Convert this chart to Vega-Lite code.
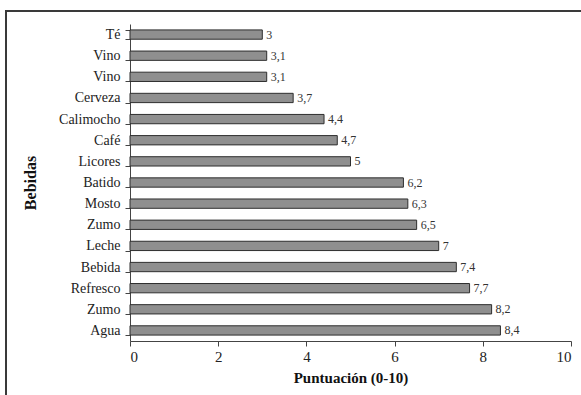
{
  "$schema": "https://vega.github.io/schema/vega-lite/v6.json",
  "width": 441,
  "height": 317,
  "autosize": {"type": "none"},
  "padding": {"left": 130, "top": 24, "right": 10, "bottom": 54},
  "background": "white",
  "config": {
    "font": "Liberation Serif",
    "view": {"stroke": null},
    "axis": {
      "labelFont": "Liberation Serif",
      "titleFont": "Liberation Serif",
      "labelColor": "#222222",
      "titleColor": "#111111",
      "tickColor": "#444444",
      "domainColor": "#444444",
      "tickSize": 5,
      "grid": false
    },
    "axisX": {"labelFontSize": 15, "titleFontSize": 15, "labelPadding": 3, "titlePadding": 6},
    "axisY": {"labelFontSize": 14, "titleFontSize": 16, "labelPadding": 5, "titlePadding": 20},
    "locale": {
      "number": {"decimal": ",", "thousands": ".", "grouping": [3], "currency": ["", " €"]}
    }
  },
  "data": {
    "values": [
      {"clave": "Té_1", "orden": 1, "puntuacion": 3},
      {"clave": "Vino_2", "orden": 2, "puntuacion": 3.1},
      {"clave": "Vino_3", "orden": 3, "puntuacion": 3.1},
      {"clave": "Cerveza_4", "orden": 4, "puntuacion": 3.7},
      {"clave": "Calimocho_5", "orden": 5, "puntuacion": 4.4},
      {"clave": "Café_6", "orden": 6, "puntuacion": 4.7},
      {"clave": "Licores_7", "orden": 7, "puntuacion": 5},
      {"clave": "Batido_8", "orden": 8, "puntuacion": 6.2},
      {"clave": "Mosto_9", "orden": 9, "puntuacion": 6.3},
      {"clave": "Zumo_10", "orden": 10, "puntuacion": 6.5},
      {"clave": "Leche_11", "orden": 11, "puntuacion": 7},
      {"clave": "Bebida_12", "orden": 12, "puntuacion": 7.4},
      {"clave": "Refresco_13", "orden": 13, "puntuacion": 7.7},
      {"clave": "Zumo_14", "orden": 14, "puntuacion": 8.2},
      {"clave": "Agua_15", "orden": 15, "puntuacion": 8.4}
    ]
  },
  "layer": [
    {
      "mark": {"type": "rect", "fill": null, "stroke": "#3a3a3a", "strokeWidth": 1.5, "clip": false},
      "encoding": {
        "x": {"datum": -0.281, "type": "quantitative", "scale": {"domain": [0, 1]}, "axis": null},
        "x2": {"datum": 1.3},
        "y": {"datum": 1.04, "type": "quantitative", "scale": {"domain": [0, 1]}, "axis": null},
        "y2": {"datum": -2}
      }
    },
    {
      "layer": [
        {
          "mark": {"type": "bar", "fill": "#8f8f8f", "stroke": "#2e2e2e", "strokeWidth": 1}
        },
        {
          "mark": {"type": "text", "align": "left", "baseline": "middle", "dx": 4, "fontSize": 12, "color": "#333333", "font": "Liberation Serif"},
          "encoding": {
            "text": {"field": "puntuacion", "type": "quantitative", "format": ".1~f"}
          }
        }
      ],
      "encoding": {
        "y": {
          "field": "clave",
          "type": "nominal",
          "sort": {"field": "orden"},
          "scale": {"paddingInner": 0.56, "paddingOuter": 0.28},
          "axis": {
            "title": "Bebidas",
            "titleFontWeight": "bold",
            "labelExpr": "split(datum.label, '_')[0]",
            "labelFontSize": 14,
            "tickBand": "extent"
          }
        },
        "x": {
          "field": "puntuacion",
          "type": "quantitative",
          "scale": {"domain": [0, 10], "nice": false},
          "axis": {
            "title": "Puntuación (0-10)",
            "titleFontWeight": "bold",
            "values": [0, 2, 4, 6, 8, 10],
            "format": "d",
            "labelFontSize": 15
          }
        }
      }
    }
  ],
  "resolve": {"scale": {"x": "independent", "y": "independent"}}
}
